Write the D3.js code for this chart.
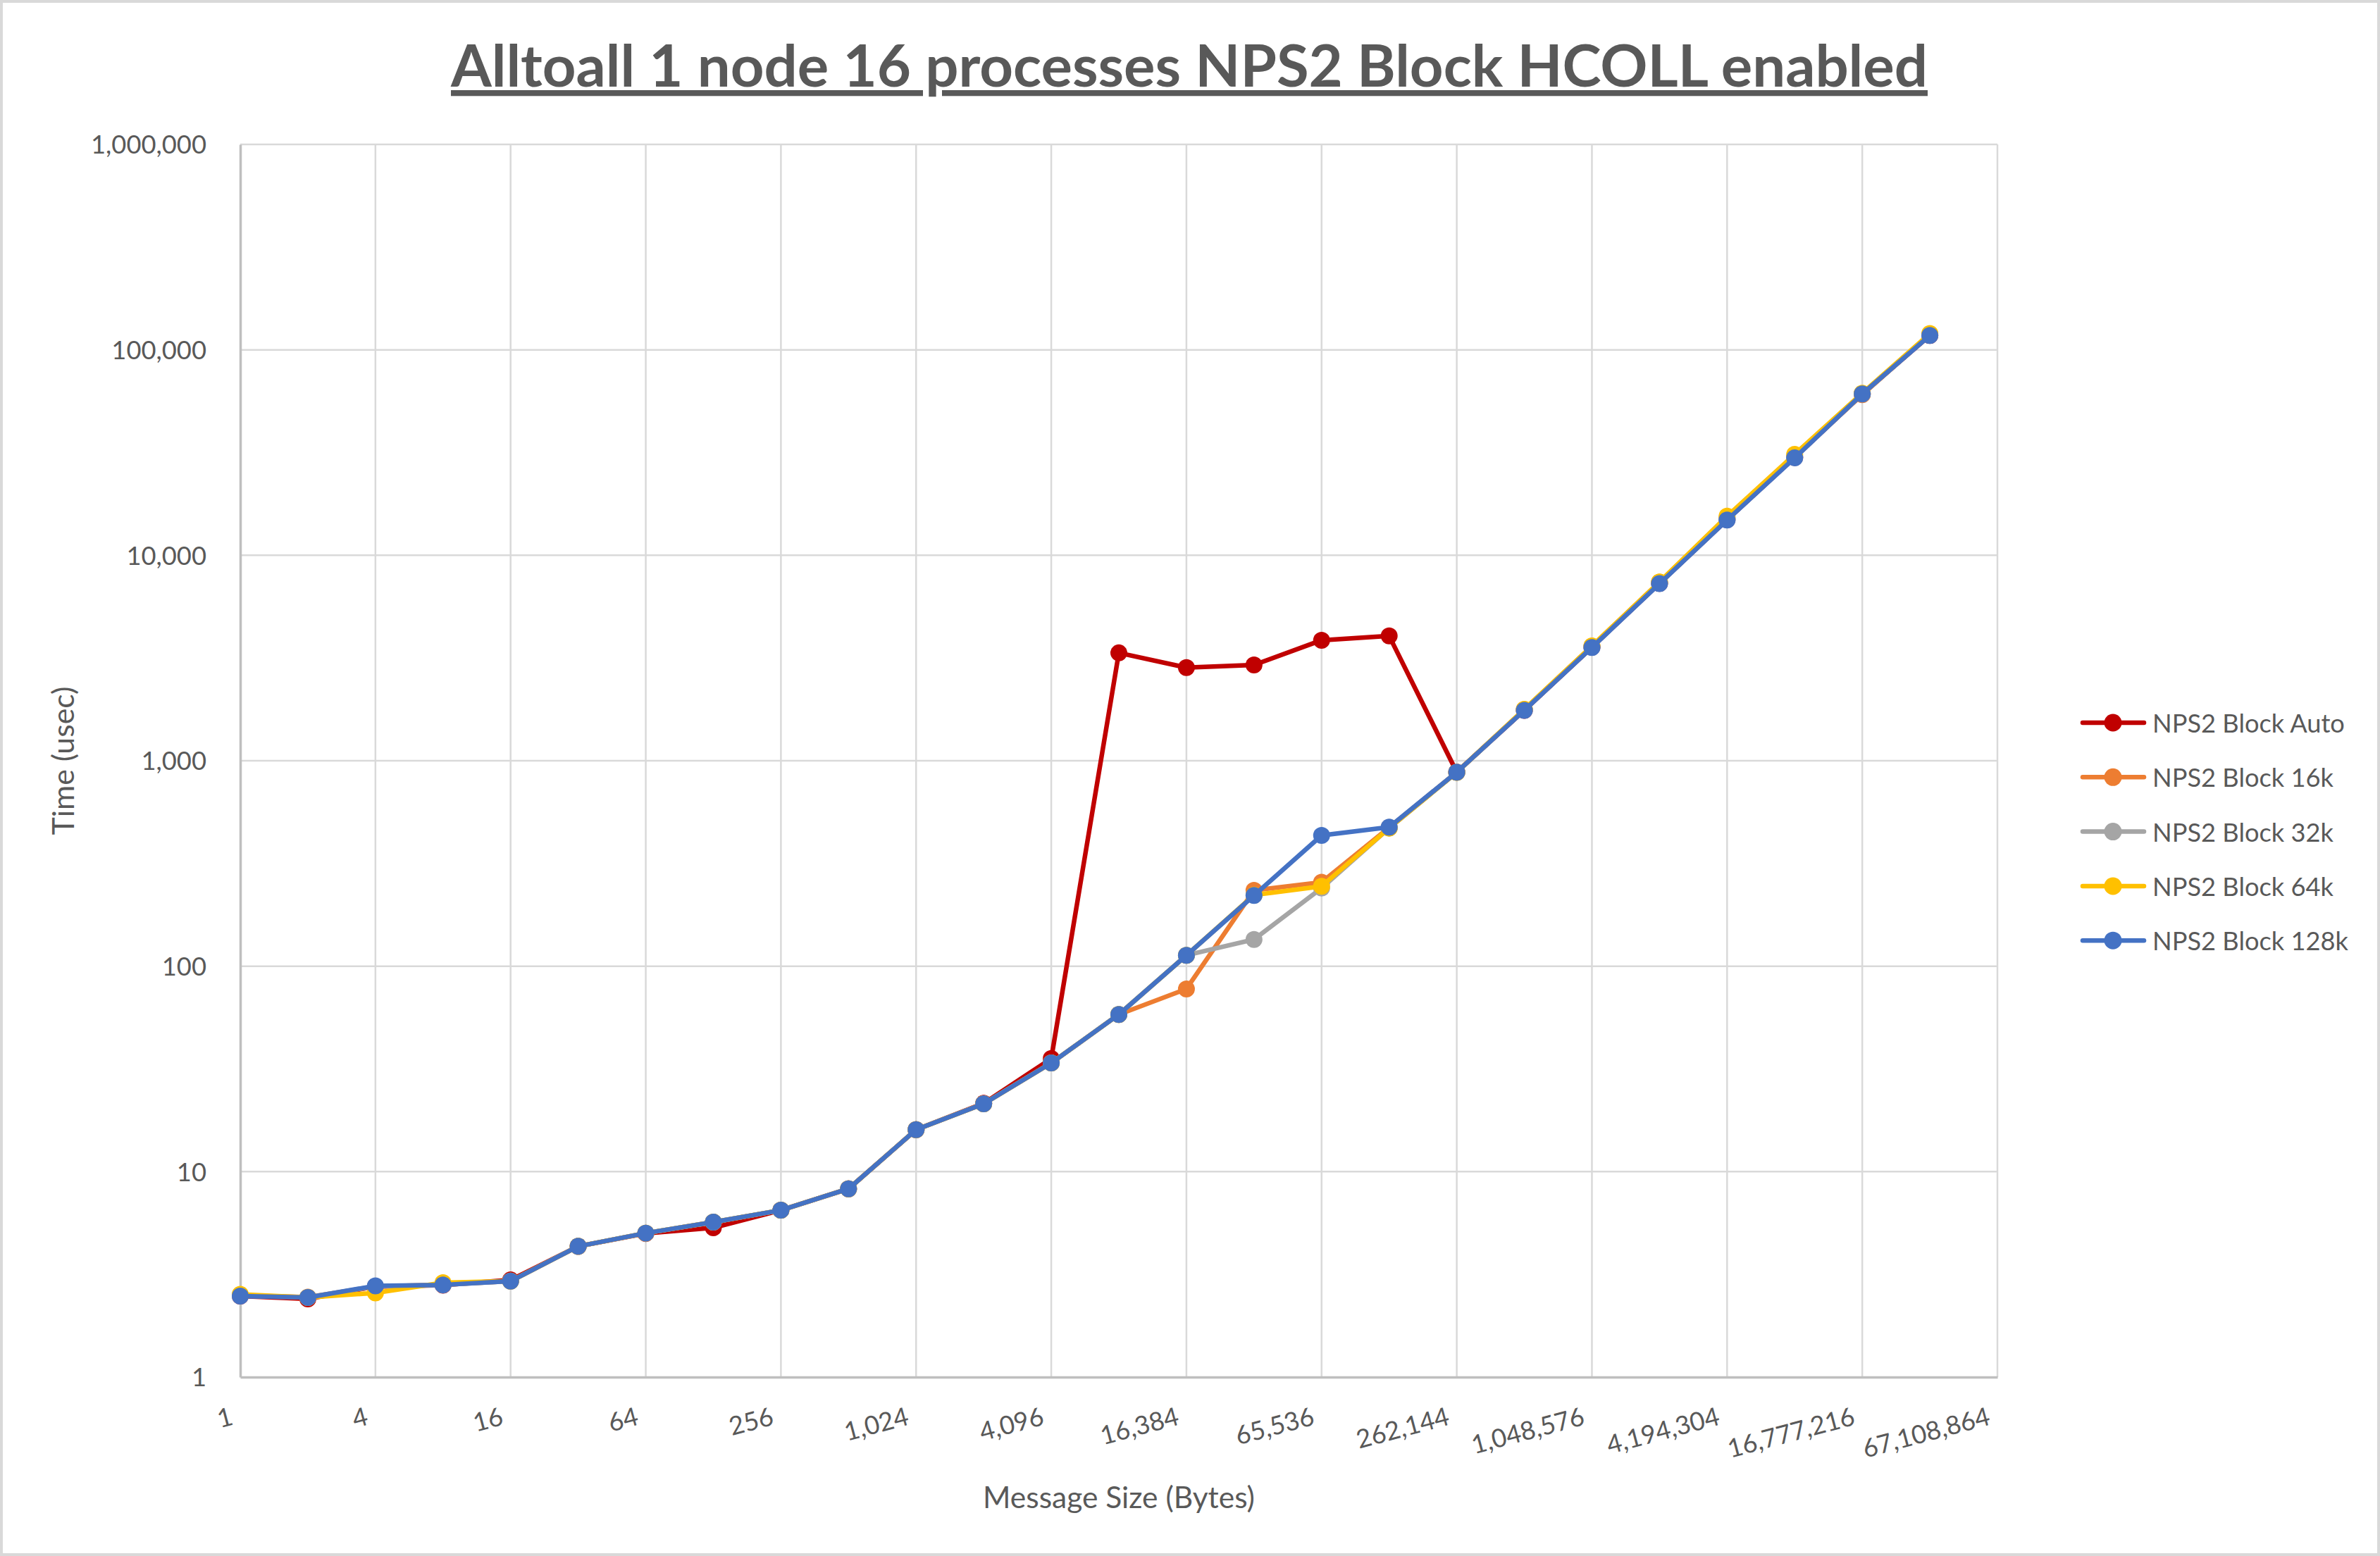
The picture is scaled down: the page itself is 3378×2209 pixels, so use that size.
<!DOCTYPE html>
<html>
<head>
<meta charset="utf-8">
<script src="https://cdn.jsdelivr.net/npm/d3@7"></script>
<style>
  html, body { margin: 0; padding: 0; background: #fff; }
  svg { display: block; }
  text { font-family: Lato, "Open Sans", sans-serif; fill: #595959; }
</style>
</head>
<body>
<svg id="chart" width="3378" height="2209"></svg>
<script>
// ---------- data ----------
const sizes = [1, 2, 4, 8, 16, 32, 64, 128, 256, 512, 1024, 2048, 4096, 8192, 16384, 32768,
  65536, 131072, 262144, 524288, 1048576, 2097152, 4194304, 8388608, 16777216, 33554432, 67108864];

const seriesNames = ["NPS2 Block Auto", "NPS2 Block 16k", "NPS2 Block 32k", "NPS2 Block 64k", "NPS2 Block 128k"];
const seriesColors = ["#C00000", "#ED7D31", "#A5A5A5", "#FFC000", "#4472C4"];

const blockAuto = [2.48, 2.40, 2.76, 2.80, 2.97, 4.33, 5.00, 5.33, 6.49, 8.25, 16.0, 21.5, 35.5,
  3350, 2840, 2925, 3860, 4050, 880, 1760, 3570, 7300, 14900, 29900, 61000, 117500, null];
const block16k = [2.50, 2.45, 2.76, 2.82, 2.93, 4.33, 5.02, 5.68, 6.49, 8.25, 16.0, 21.4, 33.8,
  58.2, 77.5, 234, 256, 473, 880, 1775, 3610, 7400, 15200, 30200, 60500, 118500, null];
const block32k = [2.49, 2.44, 2.77, 2.81, 2.93, 4.33, 5.02, 5.68, 6.49, 8.25, 16.0, 21.4, 33.8,
  58.2, 113, 135, 240, 470, 878, 1765, 3580, 7330, 15000, 30000, 61000, 118000, null];
const block64k = [2.53, 2.44, 2.57, 2.88, 2.93, 4.33, 5.02, 5.68, 6.49, 8.25, 16.0, 21.4, 33.8,
  58.2, 113, 222, 245, 470, 878, 1780, 3620, 7420, 15500, 31000, 61500, 120000, null];
const block128k = [2.48, 2.44, 2.78, 2.81, 2.93, 4.33, 5.02, 5.68, 6.49, 8.25, 16.0, 21.4, 33.8,
  58.2, 113, 221, 433, 475, 880, 1760, 3560, 7280, 14850, 29800, 61000, 117500, null];

const seriesValues = [blockAuto, block16k, block32k, block64k, block128k];

const xTickValues = [1, 4, 16, 64, 256, 1024, 4096, 16384, 65536, 262144, 1048576, 4194304, 16777216, 67108864];
const yTickValues = [1, 10, 100, 1000, 10000, 100000, 1000000];

const titleText = "Alltoall 1 node 16 processes NPS2 Block HCOLL enabled";
const xTitle = "Message Size (Bytes)";
const yTitle = "Time (usec)";

// ---------- layout ----------
const W = 3378, H = 2209;
const plot = { left: 341, right: 2835, top: 205, bottom: 1955 };

const svg = d3.select("#chart");

// helper: fit font size so text reaches a target width
function fitFont(sel, base, target) {
  sel.style("font-size", base + "px");
  const w = sel.node().getComputedTextLength();
  const s = base * target / w;
  sel.style("font-size", s + "px");
  return s;
}

// outer border
svg.append("rect").attr("x", 2).attr("y", 2).attr("width", W - 4).attr("height", H - 4)
  .attr("fill", "#fff").attr("stroke", "#D9D9D9").attr("stroke-width", 4);

const x = d3.scaleLog().base(2).domain([1, 67108864]).range([plot.left, plot.right]);
const y = d3.scaleLog().domain([1, 1000000]).range([plot.bottom, plot.top]);

// gridlines
const grid = svg.append("g");
grid.selectAll("line.h").data(yTickValues.slice(1)).join("line")
  .attr("x1", plot.left).attr("x2", plot.right)
  .attr("y1", d => y(d)).attr("y2", d => y(d))
  .attr("stroke", "#D9D9D9").attr("stroke-width", 2.5);
grid.selectAll("line.v").data(xTickValues.slice(1)).join("line")
  .attr("x1", d => x(d)).attr("x2", d => x(d))
  .attr("y1", plot.top).attr("y2", plot.bottom)
  .attr("stroke", "#D9D9D9").attr("stroke-width", 2.5);

// axes
const yAxis = d3.axisLeft(y).tickValues(yTickValues).tickFormat(d3.format(",")).tickSize(0).tickPadding(48);
const gy = svg.append("g").attr("transform", `translate(${plot.left},0)`).call(yAxis);
gy.select(".domain").attr("stroke", "#BFBFBF").attr("stroke-width", 3.5);
gy.selectAll("text").attr("fill", "#595959").style("font-family", "Lato, 'Open Sans', sans-serif");

const xAxis = d3.axisBottom(x).tickValues(xTickValues).tickFormat(d3.format(",")).tickSize(0);
const gx = svg.append("g").attr("transform", `translate(0,${plot.bottom})`).call(xAxis);
gx.select(".domain").attr("stroke", "#BFBFBF").attr("stroke-width", 3.5);
gx.selectAll("text")
  .attr("fill", "#595959")
  .style("font-family", "Lato, 'Open Sans', sans-serif")
  .attr("text-anchor", "end")
  .attr("dy", null)
  .attr("y", 0)
  .attr("transform", "translate(-9,67) rotate(-15)");

// font sizing for tick labels (target width of "1,000,000" ~164px)
const refTick = gy.selectAll("text").filter(d => d === 1000000);
const tickSize = fitFont(refTick, 40, 164);
gy.selectAll("text").style("font-size", tickSize + "px").attr("dy", "0.35em");
gx.selectAll("text").style("font-size", tickSize + "px");

// lines and markers
const line = d3.line()
  .defined(d => d.v != null)
  .x(d => x(d.s))
  .y(d => y(d.v));

seriesValues.forEach((vals, i) => {
  const pts = sizes.map((s, j) => ({ s: s, v: vals[j] }));
  const g = svg.append("g");
  g.append("path").datum(pts)
    .attr("d", line)
    .attr("fill", "none")
    .attr("stroke", seriesColors[i])
    .attr("stroke-width", 6.5)
    .attr("stroke-linejoin", "round")
    .attr("stroke-linecap", "round");
  g.selectAll("circle").data(pts.filter(d => d.v != null)).join("circle")
    .attr("cx", d => x(d.s)).attr("cy", d => y(d.v))
    .attr("r", 12)
    .attr("fill", seriesColors[i]);
});

// title
const title = svg.append("text")
  .attr("x", 1688).attr("y", 123)
  .attr("text-anchor", "middle")
  .style("font-weight", "bold")
  .style("text-decoration", "underline")
  .style("text-decoration-skip-ink", "none")
  .text(titleText);
fitFont(title, 92, 2096);

// axis titles
const xt = svg.append("text")
  .attr("x", (plot.left + plot.right) / 2).attr("y", 2124)
  .attr("text-anchor", "middle").attr("dominant-baseline", "central")
  .text(xTitle);
fitFont(xt, 44, 386);

const yt = svg.append("text")
  .attr("transform", `translate(88,${(plot.top + plot.bottom) / 2}) rotate(-90)`)
  .attr("text-anchor", "middle").attr("dominant-baseline", "central")
  .text(yTitle);
fitFont(yt, 44, 211);

// legend
const legend = svg.append("g");
let legendSize = null;
seriesNames.forEach((name, i) => {
  const ly = 1026 + i * 77.3;
  const g = legend.append("g");
  g.append("line").attr("x1", 2956).attr("x2", 3043).attr("y1", ly).attr("y2", ly)
    .attr("stroke", seriesColors[i]).attr("stroke-width", 6.5).attr("stroke-linecap", "round");
  g.append("circle").attr("cx", 2999).attr("cy", ly).attr("r", 12.5).attr("fill", seriesColors[i]);
  const t = g.append("text").attr("x", 3055).attr("y", ly)
    .attr("dominant-baseline", "central").text(name);
  if (i === 0) legendSize = fitFont(t, 40, 273);
  else t.style("font-size", legendSize + "px");
});
</script>
</body>
</html>
